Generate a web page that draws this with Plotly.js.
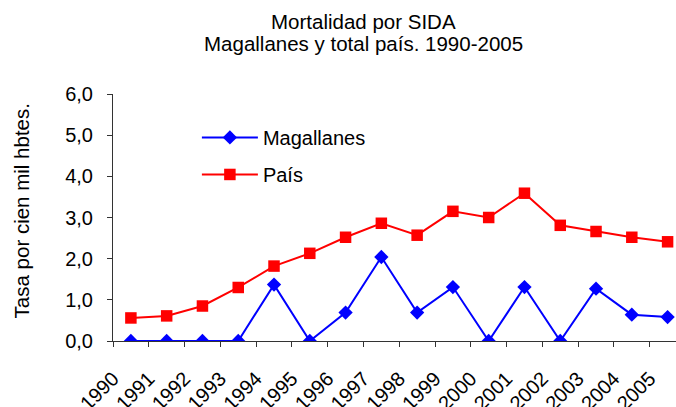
<!DOCTYPE html>
<html>
<head>
<meta charset="utf-8">
<script src="https://cdn.plot.ly/plotly-3.0.1.min.js"></script>
<style>html,body{margin:0;padding:0;overflow:hidden;background:#fff}</style>
</head>
<body>
<div id="chart" style="width:676px;height:407px"></div>
<script>
const years = ['1990','1991','1992','1993','1994','1995','1996','1997','1998','1999','2000','2001','2002','2003','2004','2005'];
const magallanes = [0, 0, 0, 0, 1.37, 0, 0.69, 2.04, 0.69, 1.31, 0, 1.31, 0, 1.27, 0.64, 0.58];
const pais = [0.56, 0.61, 0.85, 1.30, 1.82, 2.13, 2.52, 2.86, 2.57, 3.15, 3.00, 3.59, 2.81, 2.66, 2.52, 2.41];
const yTicks = [0, 1, 2, 3, 4, 5, 6];

const idx = years.map((_, i) => i);
const FONT = 'Liberation Sans, Arial, sans-serif';

const traces = [
  {
    x: idx, y: magallanes, name: 'Magallanes', type: 'scatter', mode: 'lines+markers',
    legendgroup: 'a',
    line: {color: '#0000FF', width: 2},
    marker: {symbol: 'diamond', size: 11, color: '#0000FF', line: {width: 0}}
  },
  {
    x: idx, y: pais, name: 'País', type: 'scatter', mode: 'lines+markers',
    legendgroup: 'b',
    line: {color: '#FF0000', width: 2},
    marker: {symbol: 'square', size: 11.5, color: '#FF0000', line: {width: 0}}
  }
];

const layout = {
  width: 676, height: 407,
  margin: {l: 113, r: 0, t: 94, b: 66, pad: 0},
  paper_bgcolor: '#fff', plot_bgcolor: '#fff',
  separators: ',.',
  font: {family: FONT, size: 20, color: '#000'},
  showlegend: true,
  legend: {
    x: 0.149, y: 0.903, xanchor: 'left', yanchor: 'top',
    bgcolor: 'rgba(0,0,0,0)', borderwidth: 0,
    font: {family: FONT, size: 20, color: '#000'},
    itemwidth: 56, tracegroupgap: 8, traceorder: 'grouped'
  },
  xaxis: {
    range: [-0.5, 15.235],
    tickmode: 'array',
    tickvals: idx.map(i => i - 0.5),
    ticktext: years,
    tickangle: -45,
    ticks: 'outside', ticklen: 5, tickcolor: '#333', tickwidth: 1,
    ticklabelstandoff: 12,
    showline: true, linecolor: '#333', linewidth: 1,
    showgrid: false, zeroline: false,
    tickfont: {family: FONT, size: 20, color: '#000'}
  },
  yaxis: {
    range: [0, 6],
    tickmode: 'array',
    tickvals: yTicks,
    tickformat: '.1f',
    ticks: 'outside', ticklen: 5, tickcolor: '#333', tickwidth: 1,
    ticklabelstandoff: 10,
    showline: true, linecolor: '#333', linewidth: 1,
    showgrid: false, zeroline: false,
    tickfont: {family: FONT, size: 20, color: '#000'}
  },
  annotations: [
    {text: 'Mortalidad por SIDA', xref: 'paper', yref: 'paper', x: 0.445, y: 1.292,
     xanchor: 'center', yanchor: 'middle', showarrow: false, font: {family: FONT, size: 20.5, color: '#000'}},
    {text: 'Magallanes y total país. 1990-2005', xref: 'paper', yref: 'paper', x: 0.445, y: 1.2047,
     xanchor: 'center', yanchor: 'middle', showarrow: false, font: {family: FONT, size: 20.5, color: '#000'}},
    {text: 'Tasa por cien mil hbtes.', xref: 'paper', yref: 'paper', x: -0.1628, y: 0.526,
     xanchor: 'center', yanchor: 'middle', textangle: -90, showarrow: false, font: {family: FONT, size: 20.5, color: '#000'}}
  ]
};

Plotly.newPlot('chart', traces, layout, {displayModeBar: false, staticPlot: true});
</script>
</body>
</html>
